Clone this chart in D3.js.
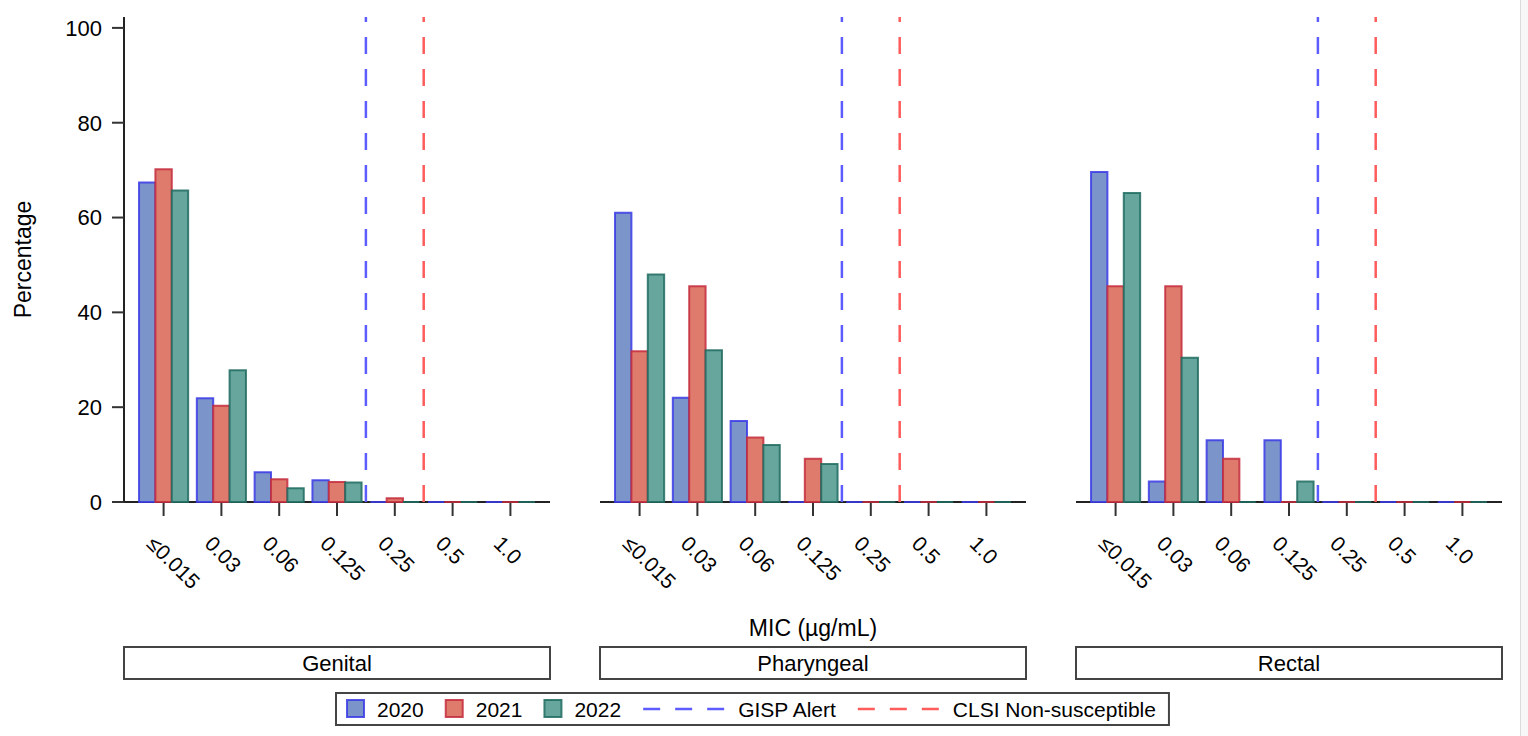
<!DOCTYPE html>
<html>
<head>
<meta charset="utf-8">
<script src="https://cdn.jsdelivr.net/npm/d3@7"></script>
<style>
  html, body { margin: 0; padding: 0; background: #ffffff; }
  svg { display: block; }
  text { font-family: "Liberation Sans", Arial, sans-serif; fill: #000; }
</style>
</head>
<body>
<svg id="chart" width="1528" height="736"></svg>
<script>
// ---------------- data ----------------
const categories = ["≤0.015", "0.03", "0.06", "0.125", "0.25", "0.5", "1.0"];
const years = ["2020", "2021", "2022"];
const sites = ["Genital", "Pharyngeal", "Rectal"];

const genital2020 = [67.4, 21.9, 6.3, 4.6, 0, 0, 0];
const genital2021 = [70.2, 20.3, 4.8, 4.2, 0.8, 0, 0];
const genital2022 = [65.7, 27.8, 2.9, 4.1, 0, 0, 0];

const pharyngeal2020 = [61.0, 22.0, 17.1, 0, 0, 0, 0];
const pharyngeal2021 = [31.8, 45.5, 13.6, 9.1, 0, 0, 0];
const pharyngeal2022 = [48.0, 32.0, 12.0, 8.0, 0, 0, 0];

const rectal2020 = [69.6, 4.3, 13.0, 13.0, 0, 0, 0];
const rectal2021 = [45.5, 45.5, 9.1, 0, 0, 0, 0];
const rectal2022 = [65.2, 30.4, 0, 4.3, 0, 0, 0];

const yTicks = [0, 20, 40, 60, 80, 100];
const gispAlertBetween = ["0.125", "0.25"];
const clsiBetween = ["0.25", "0.5"];

const seriesBySite = {
  Genital: [genital2020, genital2021, genital2022],
  Pharyngeal: [pharyngeal2020, pharyngeal2021, pharyngeal2022],
  Rectal: [rectal2020, rectal2021, rectal2022]
};

// ---------------- style ----------------
const fills = ["#7b95cb", "#df7b6c", "#67a69d"];
const strokes = ["#3a3ae6", "#c42c3c", "#1e6b60"];
const gispColor = "#5c5cff";
const clsiColor = "#ff5c5c";

// ---------------- layout ----------------
const svg = d3.select("#chart");
const panelLeft0 = 124, panelW = 426, panelGap = 50;
const plotTop = 17, plotBottom = 502;

const y = d3.scaleLinear().domain([0, 102.3]).range([plotBottom, plotTop]);
const x = d3.scalePoint().domain(categories).range([0, panelW]).padding(0.685);
const groupW = x.step() * 0.85;
const xs = d3.scaleBand().domain(years).range([-groupW / 2, groupW / 2]);

// light right margin strip
svg.append("rect").attr("x", 1521).attr("y", 0).attr("width", 7).attr("height", 736).attr("fill", "#f7f7f7");
svg.append("line").attr("x1", 1520.5).attr("x2", 1520.5).attr("y1", 0).attr("y2", 736)
  .attr("stroke", "#dcdcdc").attr("stroke-width", 1);

// y axis (first panel only)
const yAxisG = svg.append("g").attr("transform", `translate(${panelLeft0},0)`);
yAxisG.append("line").attr("x1", 0).attr("x2", 0).attr("y1", plotTop).attr("y2", plotBottom)
  .attr("stroke", "#222").attr("stroke-width", 2);
yAxisG.selectAll("line.tick").data(yTicks).join("line").attr("class", "tick")
  .attr("x1", -12).attr("x2", 0).attr("y1", d => y(d)).attr("y2", d => y(d))
  .attr("stroke", "#333").attr("stroke-width", 2);
yAxisG.selectAll("text.tick").data(yTicks).join("text").attr("class", "tick")
  .attr("x", -22).attr("y", d => y(d)).attr("dy", "0.36em")
  .attr("text-anchor", "end").attr("font-size", 22).text(d => d);

svg.append("text").attr("transform", `translate(31,${(plotTop + plotBottom) / 2}) rotate(-90)`)
  .attr("text-anchor", "middle").attr("font-size", 23).text("Percentage");

sites.forEach((site, si) => {
  const ox = panelLeft0 + si * (panelW + panelGap);
  const g = svg.append("g").attr("transform", `translate(${ox},0)`);

  // x axis line
  g.append("line").attr("x1", 0).attr("x2", panelW).attr("y1", plotBottom).attr("y2", plotBottom)
    .attr("stroke", "#222").attr("stroke-width", 2);
  // ticks
  g.selectAll("line.xt").data(categories).join("line").attr("class", "xt")
    .attr("x1", d => x(d)).attr("x2", d => x(d)).attr("y1", plotBottom).attr("y2", plotBottom + 14)
    .attr("stroke", "#333").attr("stroke-width", 2);
  // rotated labels
  g.selectAll("text.xt").data(categories).join("text").attr("class", "xt")
    .attr("transform", d => `translate(${x(d) - 18},${plotBottom + 43}) rotate(45)`)
    .attr("font-size", 21).text(d => d);

  // bars
  const vals = seriesBySite[site];
  years.forEach((yr, yi) => {
    g.selectAll(`path.bar${yi}`).data(categories.map((c, ci) => ({ c, v: vals[yi][ci] })))
      .join("path").attr("class", `bar${yi}`)
      .attr("d", d => {
        const x0 = x(d.c) + xs(yr), x1 = x0 + xs.bandwidth();
        const y0 = y(0), y1 = y(d.v);
        return `M${x0},${y0}V${y1}H${x1}V${y0}Z`;
      })
      .attr("fill", fills[yi]).attr("stroke", strokes[yi]).attr("stroke-width", 2)
      .attr("stroke-opacity", 0.85);
  });

  // reference lines
  const refs = [[gispAlertBetween, gispColor], [clsiBetween, clsiColor]];
  refs.forEach(([pair, col]) => {
    const rx = (x(pair[0]) + x(pair[1])) / 2;
    g.append("line").attr("x1", rx).attr("x2", rx).attr("y1", y(0)).attr("y2", y(102.3))
      .attr("stroke", col).attr("stroke-width", 2.5).attr("stroke-dasharray", "17,15");
  });

  // strip label box
  g.append("rect").attr("x", 0).attr("y", 647).attr("width", panelW).attr("height", 32)
    .attr("fill", "#fff").attr("stroke", "#444").attr("stroke-width", 2);
  g.append("text").attr("x", panelW / 2).attr("y", 663).attr("dy", "0.36em")
    .attr("text-anchor", "middle").attr("font-size", 22).text(site);
});

// x-axis title
svg.append("text").attr("x", panelLeft0 + (3 * panelW + 2 * panelGap) / 2).attr("y", 636)
  .attr("text-anchor", "middle").attr("font-size", 23).text("MIC (µg/mL)");

// legend
const lg = svg.append("g");
const legendBox = lg.append("rect").attr("y", 693).attr("height", 32)
  .attr("fill", "#fff").attr("stroke", "#444").attr("stroke-width", 2);
const legendItems = years.map((yr, i) => ({ type: "swatch", label: yr, fill: fills[i], stroke: strokes[i] }))
  .concat([{ type: "line", label: "GISP Alert", color: gispColor },
           { type: "line", label: "CLSI Non-susceptible", color: clsiColor }]);
let cx = 347;
const lyMid = 709;
legendItems.forEach((it, i) => {
  if (it.type === "swatch") {
    lg.append("rect").attr("x", cx).attr("y", lyMid - 9).attr("width", 17).attr("height", 17)
      .attr("fill", it.fill).attr("stroke", it.stroke).attr("stroke-width", 2).attr("stroke-opacity", 0.85);
    cx += 30;
  } else {
    lg.append("line").attr("x1", cx).attr("x2", cx + 81).attr("y1", lyMid).attr("y2", lyMid)
      .attr("stroke", it.color).attr("stroke-width", 2.5).attr("stroke-dasharray", "17,15");
    cx += 95;
  }
  const t = lg.append("text").attr("x", cx).attr("y", lyMid).attr("dy", "0.36em")
    .attr("font-size", 21).text(it.label);
  cx += t.node().getComputedTextLength();
  if (i < legendItems.length - 1) cx += 22;
});
legendBox.attr("x", 336).attr("width", cx + 13 - 336);
</script>
</body>
</html>
